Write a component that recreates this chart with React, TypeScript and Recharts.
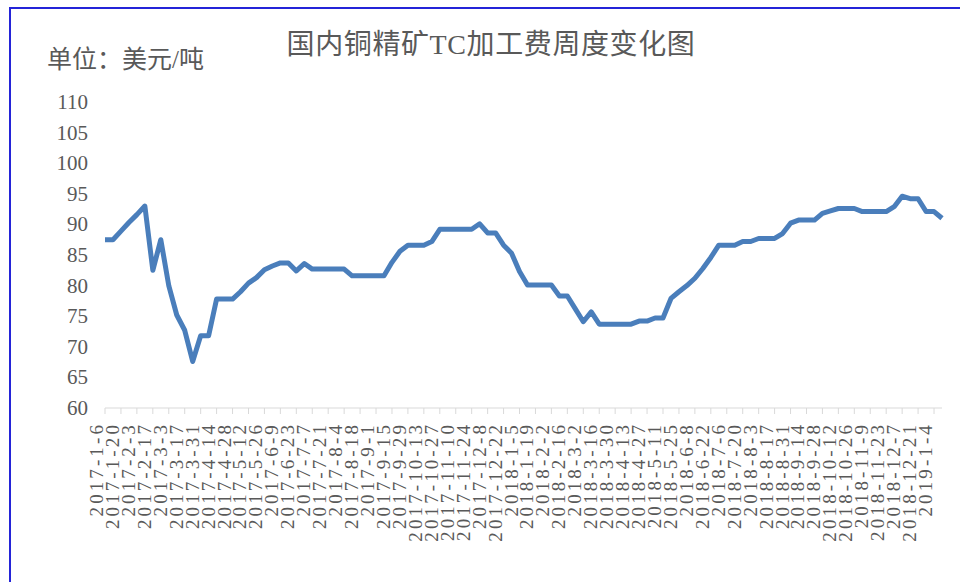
import React from "react";
import { LineChart, Line, XAxis, YAxis } from "recharts";

// weekly Friday dates
const weeks = [
  "2017-1-6", "2017-1-13", "2017-1-20", "2017-1-27", "2017-2-3", "2017-2-10", "2017-2-17", "2017-2-24",
  "2017-3-3", "2017-3-10", "2017-3-17", "2017-3-24", "2017-3-31", "2017-4-7", "2017-4-14", "2017-4-21",
  "2017-4-28", "2017-5-5", "2017-5-12", "2017-5-19", "2017-5-26", "2017-6-2", "2017-6-9", "2017-6-16",
  "2017-6-23", "2017-6-30", "2017-7-7", "2017-7-14", "2017-7-21", "2017-7-28", "2017-8-4", "2017-8-11",
  "2017-8-18", "2017-8-25", "2017-9-1", "2017-9-8", "2017-9-15", "2017-9-22", "2017-9-29", "2017-10-6",
  "2017-10-13", "2017-10-20", "2017-10-27", "2017-11-3", "2017-11-10", "2017-11-17", "2017-11-24", "2017-12-1",
  "2017-12-8", "2017-12-15", "2017-12-22", "2017-12-29",
  "2018-1-5", "2018-1-12", "2018-1-19", "2018-1-26", "2018-2-2", "2018-2-9", "2018-2-16", "2018-2-23",
  "2018-3-2", "2018-3-9", "2018-3-16", "2018-3-23", "2018-3-30", "2018-4-6", "2018-4-13", "2018-4-20",
  "2018-4-27", "2018-5-4", "2018-5-11", "2018-5-18", "2018-5-25", "2018-6-1", "2018-6-8", "2018-6-15",
  "2018-6-22", "2018-6-29", "2018-7-6", "2018-7-13", "2018-7-20", "2018-7-27", "2018-8-3", "2018-8-10",
  "2018-8-17", "2018-8-24", "2018-8-31", "2018-9-7", "2018-9-14", "2018-9-21", "2018-9-28", "2018-10-5",
  "2018-10-12", "2018-10-19", "2018-10-26", "2018-11-2", "2018-11-9", "2018-11-16", "2018-11-23", "2018-11-30",
  "2018-12-7", "2018-12-14", "2018-12-21", "2018-12-28",
  "2019-1-4", "2019-1-11",
];

// TC 加工费 (美元/吨)
const tcFee = [
  87.5, 87.5, 88.9, 90.3, 91.6, 93, 82.5, 87.5, 80, 75.2,
  72.7, 67.6, 71.8, 71.8, 77.8, 77.8, 77.8, 79, 80.4, 81.3,
  82.6, 83.2, 83.7, 83.7, 82.4, 83.6, 82.7, 82.7, 82.7, 82.7,
  82.7, 81.6, 81.6, 81.6, 81.6, 81.6, 83.8, 85.6, 86.6, 86.6,
  86.6, 87.2, 89.2, 89.2, 89.2, 89.2, 89.2, 90.1, 88.6, 88.6,
  86.6, 85.3, 82.3, 80.1, 80.1, 80.1, 80.1, 78.3, 78.3, 76.2,
  74.1, 75.7, 73.7, 73.7, 73.7, 73.7, 73.7, 74.2, 74.2, 74.7,
  74.7, 77.9, 79, 80, 81.2, 82.8, 84.6, 86.6, 86.6, 86.6,
  87.2, 87.2, 87.7, 87.7, 87.7, 88.5, 90.2, 90.7, 90.7, 90.7,
  91.8, 92.2, 92.6, 92.6, 92.6, 92.1, 92.1, 92.1, 92.1, 92.9,
  94.6, 94.2, 94.2, 92.1, 92.1, 91,
];

const yTicks = [60, 65, 70, 75, 80, 85, 90, 95, 100, 105, 110];

const data = weeks.map((w, i) => ({ week: w, tc: tcFee[i] }));

const gray = "#595959";
const serif = "Liberation Serif, DejaVu Serif, serif";

const DateTick = (props: any) => {
  const { x, y, payload } = props;
  return (
    <text
      x={x - 2}
      y={y + 6}
      transform={`rotate(-90, ${x - 2}, ${y + 6})`}
      textAnchor="end"
      fill={gray}
      style={{ fontSize: 19, letterSpacing: 3.1, fontFamily: serif }}
    >
      {payload.value}
    </text>
  );
};

const ValueTick = (props: any) => {
  const { x, y, payload } = props;
  return (
    <text
      x={x}
      y={y}
      dy={7}
      textAnchor="end"
      fill={gray}
      style={{ fontSize: 21, fontFamily: serif }}
    >
      {payload.value}
    </text>
  );
};

export default function App() {
  return (
    <div
      style={{
        position: "absolute",
        left: 0,
        top: 0,
        width: 960,
        height: 582,
        overflow: "hidden",
        background: "#fff",
      }}
    >
      {/* frame */}
      <div
        style={{
          position: "absolute",
          left: 9,
          top: 7,
          width: 2000,
          height: 2000,
          border: "2px solid #2424d8",
        }}
      />
      <div
        style={{
          position: "absolute",
          left: 0,
          width: 982,
          top: 31,
          textAlign: "center",
          fontSize: 28,
          lineHeight: 1,
          letterSpacing: 0.6,
          color: gray,
          fontFamily: "Liberation Serif, 'Noto Sans CJK SC', serif",
        }}
      >
        国内铜精矿TC加工费周度变化图
      </div>
      <div
        style={{
          position: "absolute",
          left: 47,
          top: 47,
          fontSize: 25,
          lineHeight: 1,
          color: gray,
          fontFamily: "Liberation Serif, 'Noto Sans CJK SC', serif",
        }}
      >
        单位：美元/吨
      </div>
      <div style={{ position: "absolute", left: 0, top: 0 }}>
        <LineChart
          width={960}
          height={582}
          data={data}
          margin={{ top: 102, right: 18, bottom: 0, left: 0 }}
        >
          <XAxis
            dataKey="week"
            interval={1}
            height={174}
            stroke="#d9d9d9"
            tickSize={6}
            tick={<DateTick />}
          />
          <YAxis
            width={105}
            domain={[60, 110]}
            ticks={yTicks}
            axisLine={false}
            tickLine={false}
            tickMargin={11}
            tick={<ValueTick />}
          />
          <Line
            dataKey="tc"
            stroke="#4a7ebb"
            strokeWidth={5}
            dot={false}
            strokeLinejoin="round"
            isAnimationActive={false}
          />
        </LineChart>
      </div>
    </div>
  );
}
